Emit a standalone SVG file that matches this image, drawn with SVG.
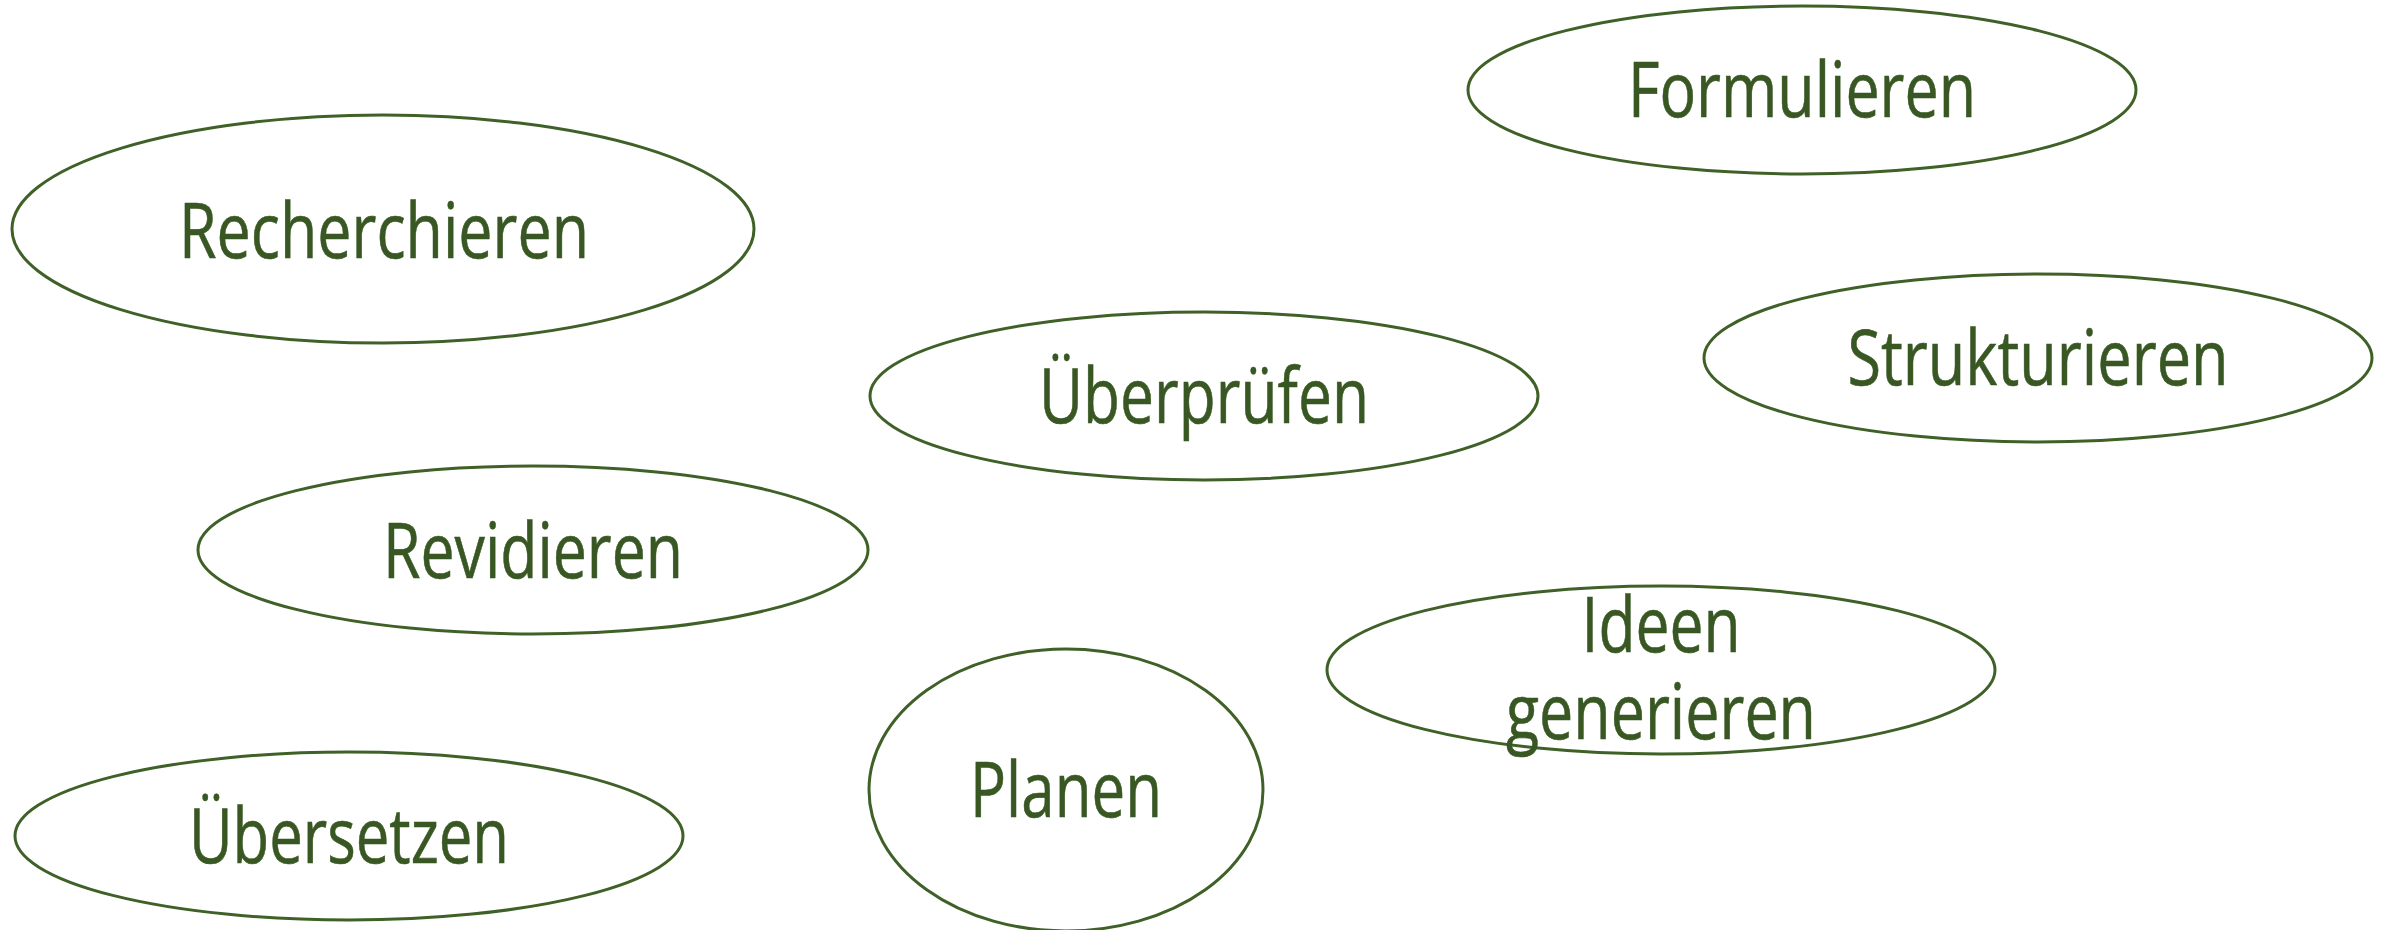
<svg xmlns="http://www.w3.org/2000/svg" width="2392" height="930" viewBox="0 0 2392 930">
<style>
.n ellipse{fill:#ffffff;stroke:#3f6127;stroke-width:3}
.n text{font-family:"Open Sans","Noto Sans","Liberation Sans",sans-serif;font-size:77px;fill:#385723;stroke:#385723;stroke-width:0.6;text-anchor:middle}
</style>
<rect width="2392" height="930" fill="#ffffff"/>
<g id="connectors"></g>
<g id="node-recherchieren" class="n"><ellipse cx="383" cy="229" rx="371" ry="114"/><text x="384" y="258" textLength="410" lengthAdjust="spacingAndGlyphs">Recherchieren</text></g>
<g id="node-formulieren" class="n"><ellipse cx="1802" cy="90" rx="334" ry="84"/><text x="1802" y="117" textLength="348" lengthAdjust="spacingAndGlyphs">Formulieren</text></g>
<g id="node-ueberpruefen" class="n"><ellipse cx="1204" cy="396" rx="334" ry="84"/><text x="1204" y="423" textLength="330" lengthAdjust="spacingAndGlyphs">Überprüfen</text></g>
<g id="node-strukturieren" class="n"><ellipse cx="2038" cy="358" rx="334" ry="84"/><text x="2038" y="385" textLength="381" lengthAdjust="spacingAndGlyphs">Strukturieren</text></g>
<g id="node-revidieren" class="n"><ellipse cx="533" cy="550" rx="335" ry="84"/><text x="533" y="578" textLength="300" lengthAdjust="spacingAndGlyphs">Revidieren</text></g>
<g id="node-ideen" class="n"><ellipse cx="1661" cy="670" rx="334" ry="84"/><text x="1661" y="652" textLength="159" lengthAdjust="spacingAndGlyphs">Ideen</text><text x="1661" y="739" textLength="310" lengthAdjust="spacingAndGlyphs">generieren</text></g>
<g id="node-planen" class="n"><ellipse cx="1066" cy="790" rx="197" ry="141"/><text x="1066" y="817" textLength="192" lengthAdjust="spacingAndGlyphs">Planen</text></g>
<g id="node-uebersetzen" class="n"><ellipse cx="349" cy="836" rx="334" ry="84"/><text x="349" y="863" textLength="320" lengthAdjust="spacingAndGlyphs">Übersetzen</text></g>
</svg>
